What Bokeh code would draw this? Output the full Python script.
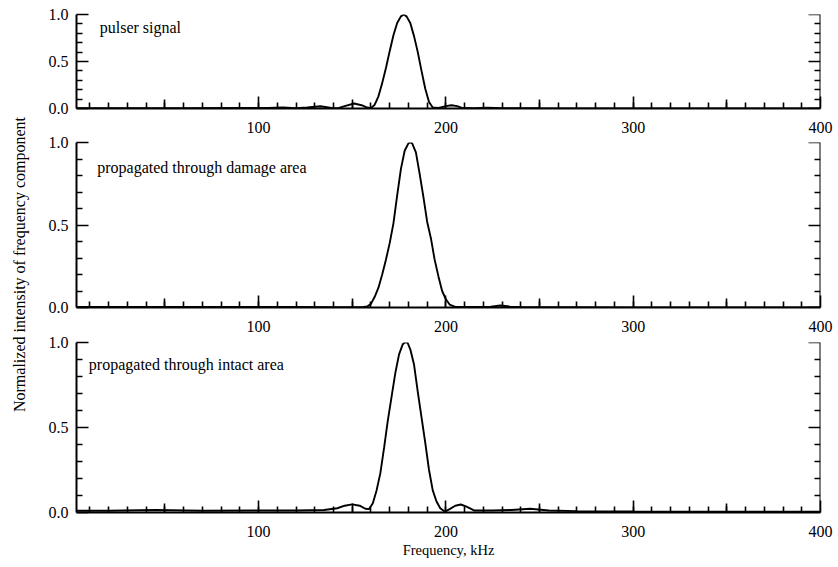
from bokeh.plotting import figure
from bokeh.layouts import row, column
from bokeh.models import FixedTicker, LinearAxis, Label, Range1d, PrintfTickFormatter
from bokeh.embed import file_html
from bokeh.resources import INLINE

# ---------------- data ----------------
freq_pulser = [3, 30, 60, 90, 105, 113, 120, 126, 133, 139, 142, 146, 151, 155, 158, 160,
               162, 164, 166, 168, 170, 172, 174, 176, 177.5, 179, 181, 183, 185, 187, 189,
               191, 193, 196, 200, 203, 206, 209, 215, 222, 230, 250, 300, 350, 400]
int_pulser = [0.003, 0.003, 0.004, 0.005, 0.006, 0.012, 0.004, 0.010, 0.024, 0.006, 0.002,
              0.025, 0.053, 0.035, 0.010, 0.004, 0.04, 0.13, 0.27, 0.43, 0.61, 0.78, 0.91,
              0.98, 1.0, 0.98, 0.91, 0.77, 0.60, 0.40, 0.21, 0.07, 0.01, 0.005, 0.025, 0.035,
              0.025, 0.005, 0.004, 0.008, 0.003, 0.002, 0.001, 0.001, 0.001]

freq_damage = [3, 30, 60, 90, 120, 140, 152, 156, 158, 160, 162, 164, 166, 168, 170, 172,
               174, 176, 178, 180, 181, 182, 184, 186, 188, 190, 192, 194, 196, 198, 200,
               202, 205, 215, 224, 229, 234, 240, 260, 300, 350, 400]
int_damage = [0.004, 0.004, 0.003, 0.004, 0.003, 0.002, 0.002, 0.003, 0.006, 0.022, 0.065,
              0.12, 0.2, 0.29, 0.39, 0.51, 0.68, 0.84, 0.95, 0.995, 1.0, 0.995, 0.94, 0.81,
              0.67, 0.52, 0.42, 0.29, 0.19, 0.10, 0.05, 0.018, 0.004, 0.003, 0.005, 0.012,
              0.006, 0.003, 0.002, 0.001, 0.001, 0.001]

freq_intact = [3, 20, 45, 70, 100, 120, 135, 142, 146, 150, 154, 157, 159, 161, 163, 165,
               167, 169, 171, 173, 175, 177, 178, 179.5, 181, 183, 185, 187, 189, 191, 193,
               195, 197, 199.5, 202, 205, 208, 211, 215, 225, 235, 245, 255, 270, 300, 350, 400]
int_intact = [0.010, 0.010, 0.015, 0.010, 0.012, 0.012, 0.015, 0.025, 0.040, 0.048, 0.040,
              0.022, 0.020, 0.055, 0.13, 0.23, 0.38, 0.54, 0.68, 0.82, 0.93, 0.99, 1.0, 1.0,
              0.96, 0.87, 0.71, 0.56, 0.41, 0.25, 0.13, 0.065, 0.025, 0.005, 0.02, 0.04,
              0.047, 0.035, 0.012, 0.012, 0.015, 0.022, 0.012, 0.008, 0.006, 0.005, 0.005]

panel_labels = ["pulser signal", "propagated through damage area", "propagated through intact area"]
x_title = "Frequency, kHz"
y_title = "Normalized intensity of frequency component"

x_major = [100, 200, 300, 400]
x_mid = [50, 150, 250, 350]
x_minor = list(range(10, 400, 10))
y_major = [0.0, 0.5, 1.0]
y_minor = [0.1, 0.2, 0.3, 0.4, 0.6, 0.7, 0.8, 0.9]
X_START, X_END = 2.8, 400

FONT = "Liberation Serif"


def style_ticks(ax, major_in, minor_in):
    ax.major_tick_in = major_in
    ax.major_tick_out = 0
    ax.minor_tick_in = minor_in
    ax.minor_tick_out = 0
    ax.major_tick_line_width = 1.6
    ax.minor_tick_line_width = 1.6
    ax.major_tick_line_color = "black"
    ax.minor_tick_line_color = "black"


def make_panel(f, v, text, tx, ty, frame_h, top, bottom, xtitle=None):
    p = figure(frame_width=744, frame_height=frame_h,
               x_range=Range1d(X_START, X_END), y_range=Range1d(0, 1.0),
               output_backend="svg", toolbar_location=None,
               x_axis_location=None, y_axis_location=None,
               min_border_left=44, min_border_right=14,
               min_border_top=top, min_border_bottom=bottom)
    p.outline_line_color = None
    p.xgrid.visible = False
    p.ygrid.visible = False

    # bottom axis
    xa = LinearAxis(ticker=FixedTicker(ticks=x_major, minor_ticks=x_minor),
                    formatter=PrintfTickFormatter(format="%d"))
    style_ticks(xa, 12, 6)
    xa.axis_line_width = 2
    xa.axis_line_color = "black"
    xa.major_label_text_font = FONT
    xa.major_label_text_font_size = "16px"
    xa.major_label_text_color = "black"
    xa.major_label_standoff = 13
    if xtitle:
        xa.axis_label = xtitle
        xa.axis_label_text_font = FONT
        xa.axis_label_text_font_size = "14.5px"
        xa.axis_label_text_font_style = "normal"
        xa.axis_label_text_color = "black"
        xa.axis_label_standoff = 2
    p.add_layout(xa, "below")

    # medium ticks at the 50s (drawn at y=0, no layout space)
    xm = LinearAxis(ticker=FixedTicker(ticks=x_mid, minor_ticks=[]), fixed_location=0)
    style_ticks(xm, 9, 0)
    xm.axis_line_color = None
    xm.major_label_text_color = None
    p.add_layout(xm, "below")

    # left axis with labels
    ya = LinearAxis(ticker=FixedTicker(ticks=y_major, minor_ticks=y_minor),
                    formatter=PrintfTickFormatter(format="%.1f"))
    style_ticks(ya, 12, 6)
    ya.axis_line_width = 2
    ya.axis_line_color = "black"
    ya.major_label_text_font = FONT
    ya.major_label_text_font_size = "16px"
    ya.major_label_text_color = "black"
    ya.major_label_standoff = 8
    p.add_layout(ya, "left")

    # right axis, ticks only
    yr = LinearAxis(ticker=FixedTicker(ticks=y_major, minor_ticks=y_minor), fixed_location=X_END)
    style_ticks(yr, 12, 6)
    yr.axis_line_width = 2
    yr.axis_line_color = "black"
    yr.major_label_text_color = None
    p.add_layout(yr, "right")

    p.line(f, v, line_color="black", line_width=1.9)

    p.add_layout(Label(x=tx, y=ty, text=text, text_font=FONT, text_font_size="16px",
                       text_color="black", text_align="left", text_baseline="middle"))
    return p


p1 = make_panel(freq_pulser, int_pulser, panel_labels[0], 15.2, 0.865, 94, 14, 26)
p2 = make_panel(freq_damage, int_damage, panel_labels[1], 13.9, 0.846, 165, 7, 27)
p3 = make_panel(freq_intact, int_intact, panel_labels[2], 9.4, 0.872, 170, 8, 46,
                xtitle=x_title)

H = 136 + 200 + 224
lab = figure(width=32, height=H, x_range=Range1d(0, 32), y_range=Range1d(0, H),
             output_backend="svg", toolbar_location=None,
             x_axis_location=None, y_axis_location=None, min_border=0)
lab.outline_line_color = None
lab.xgrid.visible = False
lab.ygrid.visible = False
lab.add_layout(Label(x=19, y=H - 264, text=y_title,
                     angle=90, angle_units="deg", text_font=FONT, text_font_size="16px",
                     text_color="black", text_align="center", text_baseline="middle"))

layout = row(lab, column(p1, p2, p3))

open("out.html", "w").write(file_html(layout, INLINE))
